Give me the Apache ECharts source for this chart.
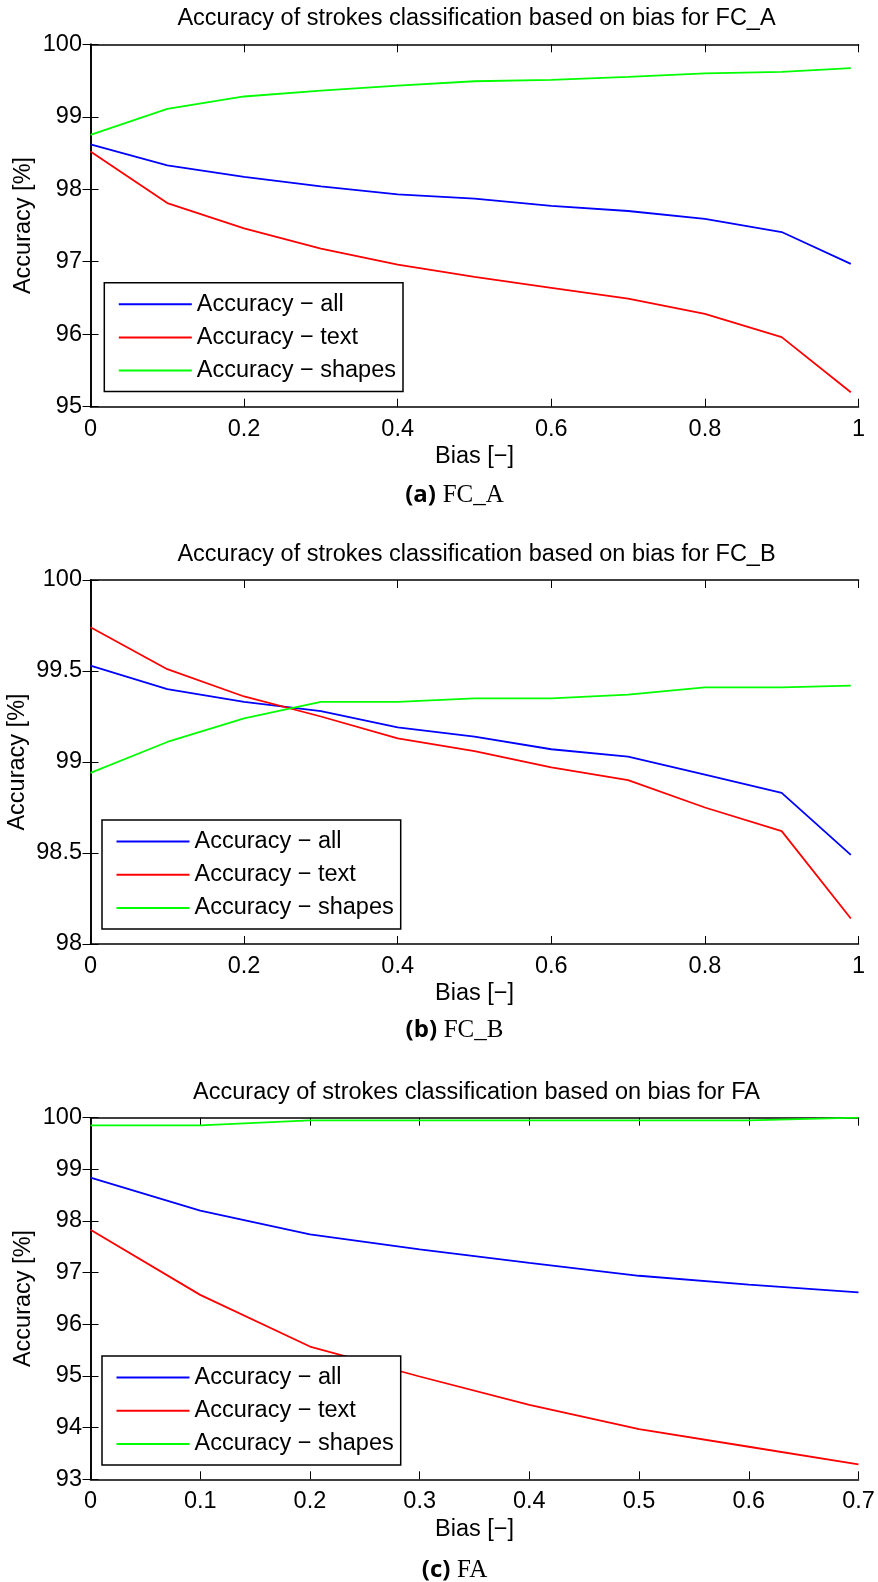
<!DOCTYPE html>
<html>
<head>
<meta charset="utf-8">
<script src="https://cdn.jsdelivr.net/npm/echarts@6/dist/echarts.min.js"></script>
<style>
html, body { margin: 0; padding: 0; background: #fff; }
#main { width: 878px; height: 1582px; }
</style>
</head>
<body>
<div id="main"></div>
<script>
// names + colours
var seriesNames = ['Accuracy − all', 'Accuracy − text', 'Accuracy − shapes']
var lineColors = ['#0000ff', '#ff0000', '#00ff00']

// x values (bias)
var biasFC = [0, 0.1, 0.2, 0.3, 0.4, 0.5, 0.6, 0.7, 0.8, 0.9, 0.99]
var biasFA = [0, 0.1, 0.2, 0.3, 0.4, 0.5, 0.6, 0.7]

// FC_A
var fcaAll    = [98.62, 98.33, 98.17, 98.04, 97.93, 97.87, 97.77, 97.70, 97.59, 97.41, 96.97]
var fcaText   = [98.52, 97.81, 97.46, 97.18, 96.96, 96.79, 96.64, 96.49, 96.28, 95.96, 95.20]
var fcaShapes = [98.75, 99.11, 99.28, 99.36, 99.43, 99.49, 99.51, 99.55, 99.60, 99.62, 99.67]

// FC_B
var fcbAll    = [99.53, 99.40, 99.33, 99.28, 99.19, 99.14, 99.07, 99.03, 98.93, 98.83, 98.49]
var fcbText   = [99.74, 99.51, 99.36, 99.25, 99.13, 99.06, 98.97, 98.90, 98.75, 98.62, 98.14]
var fcbShapes = [98.94, 99.11, 99.24, 99.33, 99.33, 99.35, 99.35, 99.37, 99.41, 99.41, 99.42]

// FA
var faAll    = [98.84, 98.20, 97.74, 97.45, 97.19, 96.94, 96.77, 96.62]
var faText   = [97.83, 96.57, 95.57, 94.99, 94.44, 93.97, 93.63, 93.29]
var faShapes = [99.85, 99.85, 99.95, 99.95, 99.95, 99.95, 99.95, 100.0]

var titles = [
    'Accuracy of strokes classification based on bias for FC_A',
    'Accuracy of strokes classification based on bias for FC_B',
    'Accuracy of strokes classification based on bias for FA'
]
var captionTags = ['(a)', '(b)', '(c)']
var captionNames = ['FC_A', 'FC_B', 'FA']

var FONT = '"Liberation Sans", Arial, Helvetica, sans-serif'
var FS = 23.5

var panels = [
    { top: 44.3, height: 362.4, x: biasFC, xMax: 1, xInt: 0.2, yMin: 95, yMax: 100, yInt: 1,
      data: [fcaAll, fcaText, fcaShapes], legendLeft: 104.3, legendTop: 282.7, capY: 495, yNameGap: 55 },
    { top: 580, height: 364, x: biasFC, xMax: 1, xInt: 0.2, yMin: 98, yMax: 100, yInt: 0.5,
      data: [fcbAll, fcbText, fcbShapes], legendLeft: 102, legendTop: 820, capY: 1030, yNameGap: 61 },
    { top: 1117.7, height: 361.6, x: biasFA, xMax: 0.7, xInt: 0.1, yMin: 93, yMax: 100, yInt: 1,
      data: [faAll, faText, faShapes], legendLeft: 102, legendTop: 1356, capY: 1570, yNameGap: 55 }
]

var gridLeft = 90.5
var gridWidth = 768

var option = {
    animation: false,
    backgroundColor: '#fff',
    textStyle: { fontFamily: FONT },
    grid: [], xAxis: [], yAxis: [], series: [], legend: [], graphic: []
}

panels.forEach(function(p, i) {
    option.grid.push({ left: gridLeft, top: p.top, width: gridWidth, height: p.height, outerBoundsMode: 'none' })

    var axLine = { show: true, lineStyle: { color: '#000', width: 1.6 } }
    // bottom x + top copy for the box frame
    option.xAxis.push({
        type: 'value', gridIndex: i, min: 0, max: p.xMax, interval: p.xInt,
        axisLine: axLine, splitLine: { show: false },
        axisTick: { inside: true, length: 8, lineStyle: { color: '#000', width: 1 } },
        axisLabel: { color: '#000', fontSize: FS, fontFamily: FONT, margin: 10.5 },
        name: 'Bias [−]', nameLocation: 'middle', nameGap: 38, nameMoveOverlap: false,
        nameTextStyle: { color: '#000', fontSize: FS, fontFamily: FONT }
    })
    option.xAxis.push({
        type: 'value', gridIndex: i, position: 'top', min: 0, max: p.xMax, interval: p.xInt,
        axisLine: axLine, splitLine: { show: false },
        axisTick: { inside: true, length: 8, lineStyle: { color: '#000', width: 1 } },
        axisLabel: { show: false }
    })
    option.yAxis.push({
        type: 'value', gridIndex: i, min: p.yMin, max: p.yMax, interval: p.yInt,
        axisLine: axLine, splitLine: { show: false },
        axisTick: { inside: true, length: 8, lineStyle: { color: '#000', width: 1 } },
        axisLabel: { color: '#000', fontSize: FS, fontFamily: FONT, margin: 8.5 },
        name: 'Accuracy [%]', nameLocation: 'middle', nameGap: p.yNameGap, nameMoveOverlap: false,
        nameTextStyle: { color: '#000', fontSize: FS, fontFamily: FONT }
    })
    option.yAxis.push({
        type: 'value', gridIndex: i, position: 'right', min: p.yMin, max: p.yMax, interval: p.yInt,
        axisLine: axLine, splitLine: { show: false },
        axisTick: { inside: true, length: 8, lineStyle: { color: '#000', width: 1 } },
        axisLabel: { show: false }
    })

    p.data.forEach(function(vals, k) {
        option.series.push({
            type: 'line', name: seriesNames[k],
            xAxisIndex: i * 2, yAxisIndex: i * 2,
            showSymbol: false, symbol: 'none', silent: true,
            lineStyle: { color: lineColors[k], width: 1.8 },
            itemStyle: { color: lineColors[k] },
            data: p.x.map(function(x, j) { return [x, vals[j]] })
        })
    })

    option.legend.push({
        orient: 'vertical', left: p.legendLeft, top: p.legendTop,
        data: seriesNames, icon: 'rect', itemWidth: 73, itemHeight: 2, itemGap: 9.2,
        padding: [9.5, 7, 9, 14.5],
        backgroundColor: '#fff', borderColor: '#000', borderWidth: 1.5,
        textStyle: { color: '#000', fontSize: FS, fontFamily: FONT, lineHeight: FS },
        selectedMode: false
    })

    option.graphic.push({
        type: 'text', x: 476.5, y: p.top - 25.5,
        style: { text: titles[i], fill: '#000', font: FS + 'px ' + FONT, align: 'center', verticalAlign: 'middle' }
    })

    // caption under the panel
    option.graphic.push({
        type: 'text', x: 454.5, y: p.capY,
        style: {
            text: '{b|' + captionTags[i] + '}  {s|' + captionNames[i] + '}',
            align: 'center', verticalAlign: 'middle',
            rich: {
                b: { fontSize: 24, fontWeight: 'bold', fontFamily: '"Open Sans", ' + FONT, fill: '#000' },
                s: { fontSize: 25, fontFamily: '"Liberation Serif", "DejaVu Serif", serif', fill: '#000' }
            }
        }
    })
})

var chartDom = document.getElementById('main')
var myChart = echarts.init(chartDom)
myChart.setOption(option)
</script>
</body>
</html>
